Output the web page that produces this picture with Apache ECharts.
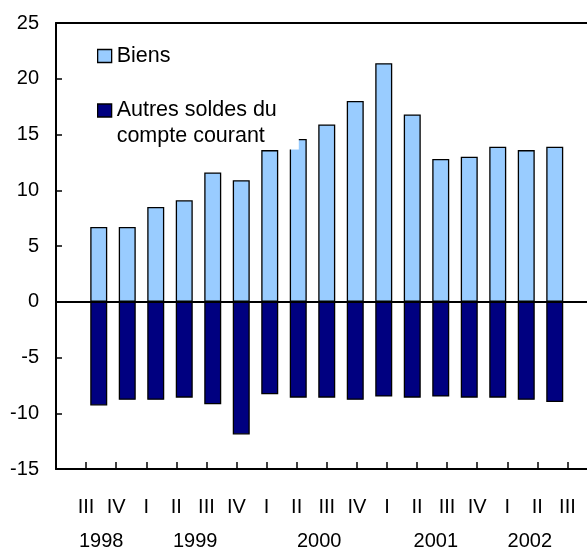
<!DOCTYPE html>
<html>
<head>
<meta charset="utf-8">
<style>html,body{margin:0;padding:0;background:#fff}#c{width:587px;height:552px}</style>
<script src="https://cdn.jsdelivr.net/npm/echarts@6/dist/echarts.min.js"></script>
</head>
<body>
<div id="c"></div>
<script>
// ---- data ----
const quarters = ['III','IV','I','II','III','IV','I','II','III','IV','I','II','III','IV','I','II','III'];
const years = ['1998','1999','2000','2001','2002'];
const biens = [6.7, 6.7, 8.5, 9.1, 11.6, 10.9, 13.6, 14.6, 15.9, 18.0, 21.4, 16.8, 12.8, 13.0, 13.9, 13.6, 13.9];
const autres = [-9.3, -8.8, -8.8, -8.6, -9.2, -11.9, -8.3, -8.6, -8.6, -8.8, -8.5, -8.6, -8.5, -8.6, -8.6, -8.8, -9.0];
const yTicks = [-15, -10, -5, 0, 5, 10, 15, 20, 25];

// ---- layout helpers ----
const yearAt = [1.5, 4.625, 8.75, 12.625, 15.75]; // label placement in tick units
const FONT = 'Liberation Sans, Arial, sans-serif';
const FS = 20;
const LFS = 21.5;

const barCats = [''].concat(quarters.map((q, i) => q + '-' + i)).concat(['']);
const pad = a => [null].concat(a).concat([null]);

const chart = echarts.init(document.getElementById('c'), null, {renderer: 'canvas'});
chart.setOption({
  animation: false,
  backgroundColor: '#fff',
  textStyle: {fontFamily: FONT},
  grid: {left: 56, top: 23, width: 541.5, height: 446, containLabel: false, outerBoundsMode: 'none'},
  legend: [
    {
      data: ['Biens'],
      orient: 'vertical', left: 97, top: 45, padding: 0,
      icon: 'rect', itemWidth: 14, itemHeight: 13,
      itemStyle: {borderColor: '#000', borderWidth: 1.3},
      textStyle: {fontSize: LFS, color: '#000', fontFamily: FONT},
      selectedMode: false
    },
    {
      data: ['Autres soldes du compte courant'],
      orient: 'vertical', left: 97, top: 71.5, padding: [0, 22, 0, 0],
      backgroundColor: '#fff',
      icon: 'rect', itemWidth: 14, itemHeight: 13,
      itemStyle: {borderColor: '#000', borderWidth: 1.3},
      formatter: () => '\nAutres soldes du\ncompte courant',
      textStyle: {fontSize: LFS, color: '#000', fontFamily: FONT, lineHeight: 26},
      selectedMode: false
    }
  ],
  xAxis: [
    { // bars axis, line drawn on zero
      type: 'category', data: barCats, boundaryGap: true,
      axisLine: {show: true, onZero: true, lineStyle: {color: '#000', width: 2}},
      axisTick: {show: false}, axisLabel: {show: false}, splitLine: {show: false}, z: 3
    },
    { // quarter ticks + labels
      type: 'value', min: 0, max: 18, interval: 1, position: 'bottom',
      axisLine: {show: true, onZero: false, lineStyle: {color: '#000', width: 2}},
      axisTick: {show: true, inside: true, length: 7, lineStyle: {color: '#000', width: 1.5}},
      splitLine: {show: false},
      axisLabel: {show: true, margin: 28, fontSize: FS, color: '#000', fontFamily: FONT,
        formatter: v => quarters[Math.round(v) - 1] || ''}
    },
    { // year labels
      type: 'value', min: 0, max: 18, interval: 0.125, position: 'bottom',
      axisLine: {show: false, onZero: false}, axisTick: {show: false}, splitLine: {show: false},
      axisLabel: {show: true, margin: 62, fontSize: FS, color: '#000', fontFamily: FONT,
        formatter: v => { const k = yearAt.findIndex(p => Math.abs(p - v) < 1e-6); return k >= 0 ? years[k] : ''; }}
    },
    { // top frame line
      type: 'value', min: 0, max: 18, position: 'top',
      axisLine: {show: true, onZero: false, lineStyle: {color: '#000', width: 2}},
      axisTick: {show: false}, axisLabel: {show: false}, splitLine: {show: false}
    }
  ],
  yAxis: {
    type: 'value', min: yTicks[0], max: yTicks[yTicks.length - 1], interval: 5,
    axisLine: {show: true, onZero: false, lineStyle: {color: '#000', width: 2}},
    axisTick: {show: true, inside: true, length: 6, lineStyle: {color: '#000', width: 1.5}},
    splitLine: {show: false},
    axisLabel: {margin: 17, fontSize: FS, color: '#000', fontFamily: FONT}
  },
  series: [
    {
      name: 'Biens', type: 'bar', xAxisIndex: 0, data: pad(biens),
      barWidth: 17, barGap: '-100%',
      itemStyle: {color: '#99CCFF', borderColor: '#000', borderWidth: 1.3}
    },
    {
      name: 'Autres soldes du compte courant', type: 'bar', xAxisIndex: 0, data: pad(autres),
      barWidth: 17, barGap: '-100%',
      itemStyle: {color: '#000080', borderColor: '#000', borderWidth: 1.3}
    }
  ]
});
</script>
</body>
</html>
